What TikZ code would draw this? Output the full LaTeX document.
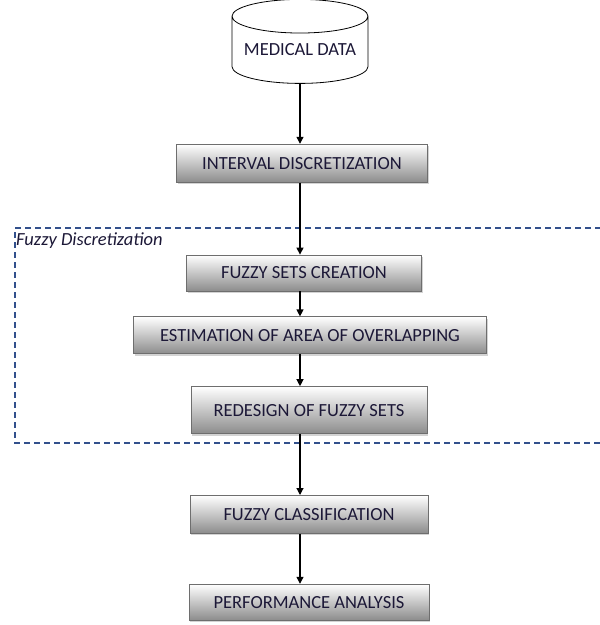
\documentclass[tikz,border=0pt]{standalone}
\usepackage{fontspec}
\setmainfont{Carlito}
\usetikzlibrary{positioning, shapes.geometric, shadows, arrows.meta}
\definecolor{framecol}{RGB}{50,80,140}
\definecolor{boxline}{RGB}{110,110,110}
\definecolor{boxbottom}{RGB}{140,140,140}
\definecolor{textcol}{RGB}{28,24,55}
\tikzset{%
  datastore/.style={cylinder, shape border rotate=90, draw, thick, aspect=0.3,
    minimum width=136pt, minimum height=84pt, inner sep=0pt, text=textcol},
  stepbox/.style={rectangle, draw=boxline, thick, top color=white, bottom color=boxbottom,
    drop shadow={shadow xshift=1pt, shadow yshift=-2pt, opacity=0.35},
    inner sep=0pt, text=textcol},
  move/.style={-{Triangle[length=7pt,width=7pt]}, line width=1.2pt},
  frame/.style={dashed, draw=framecol, line width=1.1pt, dash pattern=on 6pt off 4pt},
  framelabel/.style={font=\itshape\fontsize{18.5}{22}\selectfont, text=textcol, inner sep=0pt}
}

\begin{document}
\begin{tikzpicture}[x=1pt, y=-1pt, font=\fontsize{18.5}{22}\selectfont]
  \useasboundingbox (0,0) rectangle (600,625);

  \node[datastore] (medical) at (300,50) {MEDICAL DATA};
  \node[stepbox, below=60pt of medical, xshift=2pt, minimum width=251pt, minimum height=38pt] (interval) {INTERVAL DISCRETIZATION};
  \node[stepbox, below=72pt of interval, xshift=2pt, minimum width=235pt, minimum height=36pt] (fuzzysets) {FUZZY SETS CREATION};
  \node[stepbox, below=25pt of fuzzysets, xshift=6pt, minimum width=353pt, minimum height=37pt] (estimation) {ESTIMATION OF AREA OF OVERLAPPING};
  \node[stepbox, below=32pt of estimation, xshift=-1pt, minimum width=236pt, minimum height=47pt] (redesign) {REDESIGN OF FUZZY SETS};
  \node[stepbox, below=61pt of redesign, minimum width=238pt, minimum height=38pt] (classification) {FUZZY CLASSIFICATION};
  \node[stepbox, below=50pt of classification, minimum width=240pt, minimum height=36pt] (performance) {PERFORMANCE ANALYSIS};

  % dashed frame, open to the right
  \draw[frame] (601,228) -| (15,443) -- (601,443);
  \node[framelabel, anchor=west] (fuzzylabel) at (16,241) {Fuzzy Discretization};

  \draw[move] (medical.south) -- (medical.south |- interval.north);
  \draw[move] (medical.south |- interval.south) -- (medical.south |- fuzzysets.north);
  \draw[move] (medical.south |- fuzzysets.south) -- (medical.south |- estimation.north);
  \draw[move] (medical.south |- estimation.south) -- (medical.south |- redesign.north);
  \draw[move] (medical.south |- redesign.south) -- (medical.south |- classification.north);
  \draw[move] (medical.south |- classification.south) -- (medical.south |- performance.north);
\end{tikzpicture}
\end{document}
